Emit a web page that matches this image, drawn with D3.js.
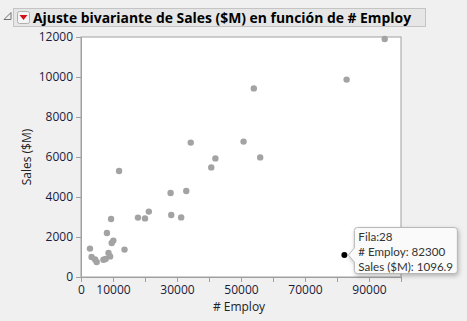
<!DOCTYPE html>
<html>
<head>
  <meta charset="utf-8">
  <title>Ajuste bivariante</title>
  <script src="https://d3js.org/d3.v7.min.js"></script>
  <style>
    html, body {
      margin: 0;
      padding: 0;
      background: #f0f0f0;
      overflow: hidden;
    }
    svg { display: block; }
    text { font-family: "Open Sans", "Noto Sans", sans-serif; }
    .tick text { font-size: 12px; fill: #1a1a3a; }
    .tl { font-family: Lato, "Open Sans", sans-serif; font-size: 11.6px; fill: #333; }
  </style>
</head>
<body>
  <svg width="467" height="321"></svg>
  <script>
    // datos
    const employ = [94900, 83000, 54000, 34300, 50800, 42000, 56000, 40700, 28000, 32900,
                    11900, 9400, 17800, 20000, 21200, 28200, 31300, 8100, 10100, 9600,
                    2800, 13600, 8600, 3300, 9100, 7700, 4400, 4900, 7000];
    const sales = [11900, 9870, 9430, 6720, 6770, 5930, 5980, 5480, 4200, 4300,
                   5300, 2900, 2970, 2930, 3270, 3100, 2980, 2200, 1820, 1700,
                   1420, 1370, 1200, 1000, 1030, 900, 880, 750, 865];
    const selected = { fila: 28, employ: 82300, sales: 1096.9 };
    const xTicks = [0, 10000, 20000, 30000, 40000, 50000, 60000, 70000, 80000, 90000, 100000];
    const xLabels = [0, 10000, 30000, 50000, 70000, 90000];
    const yTicks = [0, 2000, 4000, 6000, 8000, 10000, 12000];

    const svg = d3.select("svg");
    const plot = { left: 81, right: 401, top: 37, bottom: 277 };

    const x = d3.scaleLinear().domain([0, 100000]).range([plot.left, plot.right]);
    const y = d3.scaleLinear().domain([0, 12000]).range([plot.bottom, plot.top]);

    // cabecera
    svg.append("path")
      .attr("d", "M4,19.5 L11,12.5 L11,19.5 Z")
      .attr("fill", "none").attr("stroke", "#707070").attr("stroke-width", 1);
    svg.append("rect")
      .attr("x", 13.5).attr("y", 8.5).attr("width", 412).attr("height", 18)
      .attr("fill", "#e6e6e6").attr("stroke", "#c4c4c4");
    svg.append("rect")
      .attr("x", 17.5).attr("y", 11.5).attr("width", 12).attr("height", 12).attr("rx", 2)
      .attr("fill", "#f4f4f4").attr("stroke", "#b0b0b0");
    svg.append("path")
      .attr("d", "M19.5,15 L27.5,15 L23.5,20 Z")
      .attr("fill", "#d0101a");
    svg.append("text")
      .attr("x", 33).attr("y", 22.5)
      .attr("font-size", 13.9).attr("font-weight", "bold").attr("fill", "#000")
      .text("Ajuste bivariante de Sales ($M) en función de # Employ");

    // área del gráfico
    svg.append("rect")
      .attr("x", plot.left).attr("y", plot.top)
      .attr("width", plot.right - plot.left).attr("height", plot.bottom - plot.top)
      .attr("fill", "#fff").attr("stroke", "#a0a0a0");

    const xAxis = svg.append("g")
      .attr("transform", `translate(0,${plot.bottom})`)
      .call(d3.axisBottom(x).tickValues(xTicks).tickSize(5).tickPadding(3)
        .tickFormat(d => xLabels.includes(d) ? d : ""));
    const yAxis = svg.append("g")
      .attr("transform", `translate(${plot.left},0)`)
      .call(d3.axisLeft(y).tickValues(yTicks).tickSize(5).tickPadding(3)
        .tickFormat(d => d));
    [xAxis, yAxis].forEach(a => {
      a.select(".domain").attr("stroke", "#a0a0a0");
      a.selectAll(".tick line").attr("stroke", "#a0a0a0");
    });

    svg.append("text")
      .attr("x", 239).attr("y", 310.5).attr("text-anchor", "middle")
      .attr("font-size", 12).attr("fill", "#222")
      .text("# Employ");
    svg.append("text")
      .attr("transform", "translate(31,157) rotate(-90)").attr("text-anchor", "middle")
      .attr("font-size", 12).attr("fill", "#222")
      .text("Sales ($M)");

    // puntos
    svg.append("g").selectAll("circle")
      .data(employ.map((e, i) => [e, sales[i]]))
      .join("circle")
      .attr("cx", d => x(d[0]))
      .attr("cy", d => y(d[1]))
      .attr("r", 3.2)
      .attr("fill", "#a3a3a3");

    svg.append("circle")
      .attr("cx", x(selected.employ)).attr("cy", y(selected.sales))
      .attr("r", 3).attr("fill", "#000");

    // etiqueta emergente
    const px = x(selected.employ), py = y(selected.sales);
    const tip = svg.append("g");
    const bx = px + 10, by = 227.5, bw = 103, bh = 46;
    tip.append("path")
      .attr("d", `M${bx + 3},${by} H${bx + bw - 3} Q${bx + bw},${by} ${bx + bw},${by + 3}
        V${by + bh - 3} Q${bx + bw},${by + bh} ${bx + bw - 3},${by + bh}
        H${bx + 3} Q${bx},${by + bh} ${bx},${by + bh - 3}
        V${py + 7} L${px + 4},${py} L${bx},${py - 7} V${by + 3} Q${bx},${by} ${bx + 3},${by} Z`)
      .attr("fill", "#fafafa").attr("stroke", "#b8b8b8")
      .style("filter", "drop-shadow(1px 2px 2px rgba(0,0,0,0.25))");
    const lines = [`Fila:${selected.fila}`, `# Employ: ${selected.employ}`, `Sales ($M): ${selected.sales}`];
    tip.selectAll("text.tl")
      .data(lines)
      .join("text")
      .attr("class", "tl")
      .attr("x", bx + 4)
      .attr("y", (d, i) => by + 13 + i * 15)
      .text(d => d);
  </script>
</body>
</html>
